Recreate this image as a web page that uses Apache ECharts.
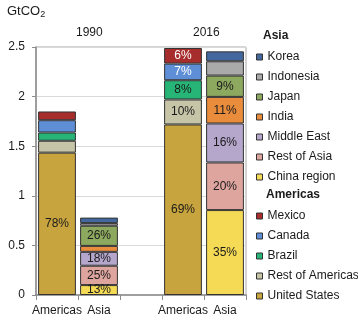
<!DOCTYPE html>
<html>
<head>
<meta charset="utf-8">
<script src="https://cdn.jsdelivr.net/npm/echarts@6/dist/echarts.min.js"></script>
<style>
  html, body { margin: 0; padding: 0; background: #fff; }
  #chart { width: 358px; height: 324px; }
</style>
</head>
<body>
<div id="chart"></div>
<script>
// Category slots: 1990 pair, a spacer, 2016 pair
const categories = ['Americas', 'Asia', '', 'Americas', 'Asia'];
const yearLabels = ['1990', '2016'];
const yTicks = [0, 0.5, 1, 1.5, 2, 2.5];

// Emissions in GtCO2, [1990, 2016]
const unitedStates   = [1.435, 1.719];
const restOfAmericas = [0.120, 0.252];
const brazil         = [0.083, 0.194];
const canada         = [0.124, 0.168];
const mexico         = [0.088, 0.157];

const chinaRegion = [0.100, 0.856];
const restOfAsia  = [0.195, 0.480];
const middleEast  = [0.140, 0.393];
const india       = [0.060, 0.268];
const japan       = [0.203, 0.215];
const indonesia   = [0.027, 0.144];
const korea       = [0.055, 0.100];

// Segments that carry a share label, per year
const labelled1990 = ['United States', 'China region', 'Rest of Asia', 'Middle East', 'Japan'];
const labelled2016 = ['United States', 'Rest of Americas', 'Brazil', 'Canada', 'Mexico',
                      'China region', 'Rest of Asia', 'Middle East', 'India', 'Japan'];

// Legend order (top to bottom)
const asiaLegend = ['Korea', 'Indonesia', 'Japan', 'India', 'Middle East', 'Rest of Asia', 'China region'];
const americasLegend = ['Mexico', 'Canada', 'Brazil', 'Rest of Americas', 'United States'];

const colors = {
  'United States': '#C8A43E',
  'Rest of Americas': '#C6C5A7',
  'Brazil': '#27B577',
  'Canada': '#5E8FD6',
  'Mexico': '#A62D2C',
  'China region': '#F5DA55',
  'Rest of Asia': '#DEA59E',
  'Middle East': '#B5A6CC',
  'India': '#E98C3C',
  'Japan': '#8DA85F',
  'Indonesia': '#AAAAAB',
  'Korea': '#42689F'
};

// Stack order, bottom first
const americasStack = [
  ['United States', unitedStates],
  ['Rest of Americas', restOfAmericas],
  ['Brazil', brazil],
  ['Canada', canada],
  ['Mexico', mexico]
];
const asiaStack = [
  ['China region', chinaRegion],
  ['Rest of Asia', restOfAsia],
  ['Middle East', middleEast],
  ['India', india],
  ['Japan', japan],
  ['Indonesia', indonesia],
  ['Korea', korea]
];

function totals(stack) {
  return [0, 1].map(i => stack.reduce((s, [, v]) => s + v[i], 0));
}
const americasTotals = totals(americasStack);
const asiaTotals = totals(asiaStack);

function makeSeries(name, values, slots, tot) {
  const data = categories.map(() => '-');
  [0, 1].forEach(i => {
    const lab = (i === 0 ? labelled1990 : labelled2016).includes(name);
    data[slots[i]] = {
      value: values[i],
      label: { show: lab },
      share: Math.round(values[i] / tot[i] * 100)
    };
  });
  const light = name === 'Mexico' || name === 'Canada';
  return {
    name: name,
    type: 'bar',
    stack: 'all',
    barCategoryGap: '10%',
    data: data,
    itemStyle: { color: colors[name], borderColor: '#333', borderWidth: 1 },
    label: {
      position: 'inside',
      fontFamily: 'Liberation Sans, Arial, sans-serif',
      fontSize: 12,
      color: light ? '#ffffff' : '#1a1a1a',
      formatter: p => p.data.share + '%'
    },
    emphasis: { disabled: true }
  };
}

const series = [
  ...americasStack.map(([n, v]) => makeSeries(n, v, [0, 3], americasTotals)),
  ...asiaStack.map(([n, v]) => makeSeries(n, v, [1, 4], asiaTotals))
];

const font = 'Liberation Sans, Arial, sans-serif';
const legendBase = {
  orient: 'vertical',
  left: 256,
  padding: 0,
  itemWidth: 6,
  itemHeight: 6,
  itemGap: 6,
  icon: 'rect',
  selectedMode: false,
  itemStyle: { borderColor: '#333', borderWidth: 1 },
  textStyle: { fontFamily: font, fontSize: 12, color: '#1a1a1a', lineHeight: 14 }
};

const chart = echarts.init(document.getElementById('chart'), null, { renderer: 'canvas' });
chart.setOption({
  animation: false,
  backgroundColor: '#fff',
  grid: {
    left: 36, right: 112, top: 47, bottom: 29,
    show: true, borderColor: '#a8a8a8', borderWidth: 1
  },
  legend: [
    Object.assign({}, legendBase, { top: 50, data: asiaLegend }),
    Object.assign({}, legendBase, { top: 209, data: americasLegend })
  ],
  graphic: [
    {
      type: 'text', left: 7, top: 5,
      style: {
        text: '{a|GtCO}{b|2}',
        rich: {
          a: { fontFamily: font, fontSize: 13, fill: '#1a1a1a' },
          b: { fontFamily: font, fontSize: 9, fill: '#1a1a1a', padding: [7, 0, 0, 0] }
        }
      }
    },
    { type: 'text', left: 76, top: 27, style: { text: yearLabels[0], fontFamily: font, fontSize: 12, fill: '#1a1a1a' } },
    { type: 'text', left: 193, top: 27, style: { text: yearLabels[1], fontFamily: font, fontSize: 12, fill: '#1a1a1a' } },
    { type: 'text', left: 263, top: 30, style: { text: 'Asia', fontFamily: font, fontSize: 12, fontWeight: 'bold', fill: '#1a1a1a' } },
    { type: 'text', left: 266, top: 189, style: { text: 'Americas', fontFamily: font, fontSize: 12, fontWeight: 'bold', fill: '#1a1a1a' } }
  ],
  xAxis: {
    type: 'category',
    data: categories,
    axisLine: { lineStyle: { color: '#8c8c8c', width: 1.5 } },
    axisTick: { show: true, length: 5, lineStyle: { color: '#8c8c8c' } },
    axisLabel: { fontFamily: font, fontSize: 12, color: '#1a1a1a', margin: 10, interval: 0 }
  },
  yAxis: {
    type: 'value',
    min: yTicks[0],
    max: yTicks[yTicks.length - 1],
    interval: yTicks[1] - yTicks[0],
    axisLine: { show: true, lineStyle: { color: '#8c8c8c', width: 1.5 } },
    axisTick: { show: true, length: 4, lineStyle: { color: '#8c8c8c' } },
    axisLabel: { fontFamily: font, fontSize: 12, color: '#1a1a1a', margin: 11 },
    splitLine: { lineStyle: { color: '#d9d9d9' } }
  },
  series: series
});
</script>
</body>
</html>
